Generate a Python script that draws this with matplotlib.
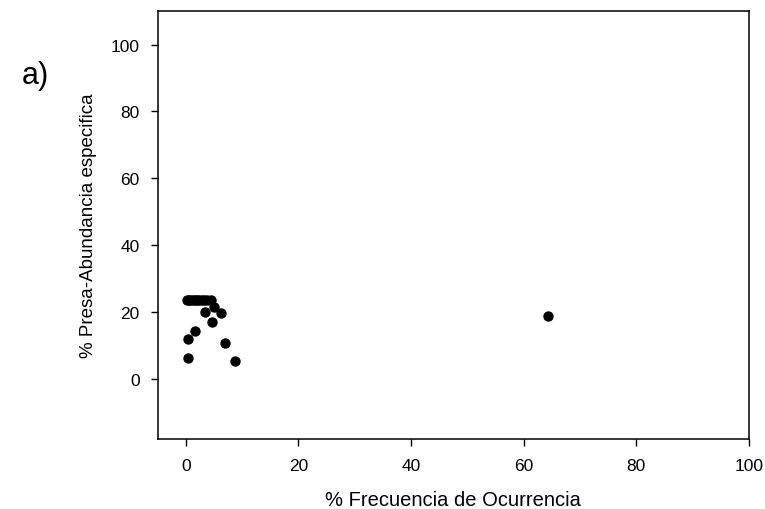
import matplotlib
matplotlib.use("Agg")
import matplotlib.pyplot as plt

# frequency of occurrence (%) vs specific prey abundance (%)
frecuencia = [0.2, 0.5, 0.8, 1.2, 1.6, 2.0, 2.4, 2.8, 3.2, 3.7, 4.4,
              3.4, 6.3, 5.0, 4.6, 1.6, 0.4, 6.9, 0.4, 8.7, 64.3]
abundancia = [23.4, 23.4, 23.4, 23.4, 23.4, 23.4, 23.4, 23.4, 23.4, 23.4, 23.4,
              20.0, 19.7, 21.3, 17.0, 14.2, 11.7, 10.5, 6.0, 5.3, 18.6]

x_ticks = [0, 20, 40, 60, 80, 100]
y_ticks = [0, 20, 40, 60, 80, 100]

plt.rcParams["font.family"] = ["Liberation Sans", "DejaVu Sans"]

fig = plt.figure(figsize=(7.65, 5.10), dpi=100)
ax = fig.add_axes([0.206, 0.138, 0.773, 0.838])

ax.scatter(frecuencia, abundancia, s=42, color="black", zorder=3)

ax.set_xlim(-5, 100)
ax.set_ylim(-18, 110)
ax.set_xticks(x_ticks)
ax.set_yticks(y_ticks)
ax.tick_params(direction="out", length=5, width=1, labelsize=12.5,
               top=False, right=False)
ax.tick_params(axis="x", pad=9)
ax.tick_params(axis="y", pad=8)
for sp in ax.spines.values():
    sp.set_linewidth(1.1)

ax.set_xlabel("% Frecuencia de Ocurrencia", fontsize=14.5, labelpad=12)
ax.set_ylabel("% Presa-Abundancia especifica", fontsize=13.5, labelpad=10)

fig.text(0.028, 0.835, "a)", fontsize=22)

fig.savefig("out.png", dpi=100)
